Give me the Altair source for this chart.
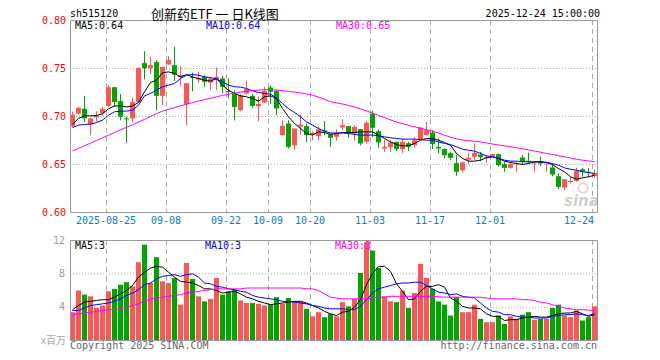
import altair as alt
import pandas as pd

# ---------------- data ----------------
OPEN = [
    0.690, 0.703, 0.708, 0.692, 0.699, 0.7035, 0.711, 0.7305, 0.716, 0.6975,
    0.698, 0.715, 0.7556, 0.7503, 0.7566, 0.7215, 0.7542, 0.7535, 0.741, 0.7128,
    0.7405, 0.7385, 0.7413, 0.7354, 0.7378, 0.7396, 0.7258, 0.7236, 0.7066, 0.724,
    0.7215, 0.7108, 0.7146, 0.7302, 0.7267, 0.6806, 0.6927, 0.670, 0.6895, 0.690,
    0.6815, 0.6795, 0.6848, 0.6813, 0.6788, 0.6885, 0.690, 0.6823, 0.6868, 0.6736,
    0.7028, 0.6847, 0.6667, 0.668, 0.6736, 0.666, 0.6722, 0.6701, 0.6764, 0.6806,
    0.6833, 0.6684, 0.666, 0.6618, 0.6514, 0.6441, 0.655, 0.658, 0.6604, 0.6569,
    0.658, 0.6608, 0.6503, 0.6465, 0.6504, 0.6573, 0.6531, 0.651, 0.6535, 0.6514,
    0.6469, 0.6378, 0.626, 0.6318, 0.633, 0.6451, 0.6417, 0.6378,
]
HIGH = [
    0.705, 0.710, 0.7215, 0.699, 0.7055, 0.710, 0.733, 0.731, 0.7233, 0.700,
    0.7198, 0.751, 0.768, 0.7621, 0.7587, 0.752, 0.763, 0.7726, 0.7525, 0.735,
    0.7457, 0.747, 0.743, 0.741, 0.751, 0.7424, 0.7396, 0.7274, 0.7236, 0.7368,
    0.7236, 0.7208, 0.731, 0.7326, 0.7274, 0.6962, 0.6962, 0.6875, 0.702, 0.6927,
    0.6847, 0.6896, 0.6952, 0.6823, 0.6865, 0.6972, 0.690, 0.691, 0.6868, 0.6955,
    0.7059, 0.6865, 0.676, 0.6753, 0.6736, 0.677, 0.6736, 0.6788, 0.689, 0.6944,
    0.6858, 0.6771, 0.667, 0.6632, 0.6604, 0.6534, 0.6622, 0.6719, 0.6632, 0.6597,
    0.661, 0.6615, 0.6528, 0.6528, 0.653, 0.6597, 0.6622, 0.6528, 0.658, 0.6528,
    0.6503, 0.641, 0.6347, 0.6372, 0.6465, 0.6465, 0.6465, 0.6448,
]
LOW = [
    0.689, 0.702, 0.694, 0.681, 0.6945, 0.701, 0.710, 0.710, 0.696, 0.6726,
    0.6937, 0.714, 0.7386, 0.744, 0.7066, 0.712, 0.754, 0.737, 0.732, 0.691,
    0.7263, 0.735, 0.731, 0.7274, 0.7274, 0.724, 0.7187, 0.696, 0.7056, 0.7233,
    0.709, 0.6951, 0.714, 0.7128, 0.7014, 0.680, 0.6667, 0.665, 0.681, 0.6736,
    0.6753, 0.675, 0.6806, 0.6684, 0.6747, 0.6854, 0.6778, 0.6747, 0.670, 0.672,
    0.6788, 0.6674, 0.6632, 0.6632, 0.6639, 0.6618, 0.6639, 0.6674, 0.676, 0.680,
    0.666, 0.6615, 0.6563, 0.6545, 0.6382, 0.6417, 0.6503, 0.6545, 0.6535, 0.652,
    0.6576, 0.6476, 0.6424, 0.6458, 0.6424, 0.650, 0.651, 0.6424, 0.6483, 0.6424,
    0.6376, 0.6243, 0.6233, 0.630, 0.632, 0.6372, 0.6372, 0.6361,
]
CLOSE = [
    0.702, 0.709, 0.698, 0.698, 0.701, 0.708, 0.7305, 0.715, 0.6997, 0.697,
    0.715, 0.7507, 0.7503, 0.7535, 0.7215, 0.7517, 0.7587, 0.7434, 0.743, 0.7347,
    0.740, 0.7402, 0.7361, 0.7396, 0.7413, 0.7309, 0.7255, 0.710, 0.7222, 0.7285,
    0.711, 0.7132, 0.7267, 0.7257, 0.7083, 0.6903, 0.6684, 0.6875, 0.6915, 0.6806,
    0.683, 0.6868, 0.6845, 0.6778, 0.6823, 0.691, 0.683, 0.6892, 0.6719, 0.6934,
    0.6882, 0.673, 0.6684, 0.6729, 0.666, 0.6736, 0.6684, 0.6753, 0.6885, 0.6858,
    0.6712, 0.6667, 0.6597, 0.657, 0.6424, 0.6521, 0.657, 0.6622, 0.6576, 0.658,
    0.6608, 0.6493, 0.6465, 0.6503, 0.651, 0.6528, 0.6528, 0.6514, 0.651, 0.652,
    0.6396, 0.6267, 0.6347, 0.6323, 0.6434, 0.6424, 0.6413, 0.6413,
]
MA5 = [
    0.692, 0.698, 0.7007, 0.7007, 0.701, 0.703, 0.708, 0.711, 0.711, 0.710,
    0.711, 0.7146, 0.7257, 0.7354, 0.7378, 0.7455, 0.7465, 0.745, 0.7413, 0.7437,
    0.7413, 0.7396, 0.7378, 0.7368, 0.7396, 0.7326, 0.7274, 0.724, 0.7215, 0.7205,
    0.7188, 0.716, 0.7205, 0.7215, 0.7188, 0.7083, 0.6997, 0.6927, 0.6875, 0.6823,
    0.6806, 0.684, 0.6833, 0.6813, 0.6823, 0.6833, 0.6833, 0.6833, 0.684, 0.684,
    0.684, 0.6806, 0.6771, 0.6736, 0.6708, 0.6694, 0.6694, 0.6719, 0.6753, 0.6771,
    0.6771, 0.6753, 0.6729, 0.670, 0.6615, 0.6563, 0.6535, 0.6535, 0.6545, 0.657,
    0.658, 0.6563, 0.6535, 0.6521, 0.651, 0.650, 0.651, 0.6528, 0.6528, 0.6521,
    0.650, 0.6458, 0.6424, 0.6372, 0.6347, 0.6361, 0.6372, 0.6389,
]
MA10 = [
    0.6885, 0.691, 0.6917, 0.692, 0.6937, 0.6962, 0.7014, 0.7049, 0.7056, 0.7056,
    0.7066, 0.7118, 0.7215, 0.724, 0.7274, 0.731, 0.7326, 0.7344, 0.7396, 0.743,
    0.7437, 0.743, 0.7413, 0.7406, 0.7389, 0.7361, 0.7326, 0.731, 0.7306, 0.7292,
    0.7267, 0.725, 0.724, 0.7233, 0.7194, 0.7135, 0.7083, 0.7042, 0.6997, 0.6944,
    0.691, 0.6875, 0.6847, 0.6828, 0.6828, 0.6828, 0.6823, 0.6813, 0.6806, 0.6806,
    0.6806, 0.680, 0.6788, 0.6778, 0.6771, 0.6764, 0.6764, 0.6764, 0.676, 0.6753,
    0.6753, 0.6736, 0.6719, 0.6708, 0.6684, 0.666, 0.6649, 0.6639, 0.6615, 0.659,
    0.658, 0.6563, 0.6545, 0.6535, 0.6535, 0.6528, 0.6528, 0.6528, 0.6528, 0.6521,
    0.651, 0.6493, 0.6465, 0.6451, 0.6441, 0.6424, 0.6417, 0.6406,
]
MA30 = [
    0.6640, 0.6667, 0.6695, 0.6722, 0.6750, 0.6778, 0.6805, 0.6833, 0.6860, 0.6888,
    0.6915, 0.6942, 0.6970, 0.7000, 0.7030, 0.7055, 0.7075, 0.7092, 0.7110, 0.7128,
    0.7145, 0.7160, 0.7175, 0.7190, 0.7205, 0.7220, 0.7232, 0.7244, 0.7255, 0.7264,
    0.7270, 0.7275, 0.7279, 0.7280, 0.7276, 0.7270, 0.7262, 0.7255, 0.7246, 0.7235,
    0.7222, 0.7202, 0.7180, 0.7155, 0.7142, 0.7130, 0.7116, 0.7100, 0.7080, 0.7058,
    0.7035, 0.7012, 0.6988, 0.6965, 0.6942, 0.6925, 0.6908, 0.6893, 0.6878, 0.6862,
    0.6847, 0.6828, 0.6805, 0.6785, 0.6768, 0.6755, 0.6748, 0.6742, 0.6735, 0.6725,
    0.6713, 0.6703, 0.6695, 0.6686, 0.6675, 0.6663, 0.6652, 0.6640, 0.6628, 0.6615,
    0.6605, 0.6592, 0.6580, 0.6568, 0.6555, 0.6545, 0.6537, 0.6530,
]
VOLUME = [
    3.4, 6.0, 5.5, 5.3, 3.9, 4.2, 5.9, 6.2, 6.7, 7.0,
    6.5, 9.4, 11.5, 6.9, 10.0, 7.1, 6.9, 7.5, 4.3, 9.3,
    7.4, 5.3, 4.7, 5.0, 7.5, 5.5, 5.9, 6.1, 4.8, 4.5,
    4.5, 4.4, 4.2, 4.4, 5.2, 4.4, 5.1, 4.7, 4.7, 3.8,
    2.9, 3.4, 2.8, 3.2, 2.9, 4.6, 4.1, 5.0, 8.1, 11.8,
    10.8, 8.7, 5.3, 4.7, 4.6, 6.0, 3.9, 5.7, 9.2, 7.5,
    6.2, 4.7, 4.3, 3.0, 5.2, 3.4, 3.4, 4.3, 2.6, 2.2,
    2.2, 3.0, 2.0, 2.9, 2.6, 3.1, 3.4, 2.5, 2.6, 2.6,
    3.9, 4.3, 3.0, 2.8, 3.6, 2.4, 2.8, 4.1,
]
VMA5 = [
    3.7, 4.2, 4.6, 4.7, 4.8, 4.9, 4.9, 5.2, 5.6, 6.0,
    6.6, 7.6, 8.2, 8.7, 8.9, 8.8, 8.2, 7.6, 7.1, 7.0,
    6.9, 6.6, 6.2, 6.2, 6.0, 5.7, 5.8, 5.9, 5.6, 5.2,
    5.0, 4.7, 4.5, 4.3, 4.4, 4.5, 4.6, 4.7, 4.7, 4.5,
    4.2, 3.9, 3.5, 3.2, 3.0, 3.4, 3.5, 4.0, 4.9, 6.7,
    8.0, 8.9, 8.9, 8.3, 6.8, 5.9, 4.9, 5.0, 5.9, 6.5,
    6.5, 6.7, 6.4, 5.1, 4.7, 4.1, 3.9, 3.9, 3.8, 3.2,
    2.9, 2.9, 2.4, 2.5, 2.5, 2.7, 2.8, 2.9, 2.8, 2.8,
    3.0, 3.2, 3.3, 3.3, 3.5, 3.2, 2.9, 3.1,
]
VMA10 = [
    3.6, 3.6, 3.9, 4.2, 4.3, 4.4, 4.5, 4.7, 5.0, 5.4,
    5.7, 6.1, 6.7, 6.9, 7.4, 7.7, 7.8, 7.9, 7.7, 7.9,
    8.0, 7.6, 6.9, 6.8, 6.5, 6.4, 6.2, 6.1, 5.9, 5.8,
    5.4, 5.2, 5.1, 5.0, 4.9, 4.7, 4.7, 4.6, 4.5, 4.4,
    4.2, 4.1, 3.9, 3.8, 3.8, 3.8, 3.7, 3.7, 4.1, 4.9,
    5.7, 6.2, 6.4, 6.6, 6.8, 6.9, 6.9, 7.0, 7.0, 6.6,
    6.2, 5.8, 5.7, 5.5, 5.6, 5.3, 5.2, 5.1, 4.5, 3.9,
    3.5, 3.4, 3.1, 3.1, 2.9, 2.8, 2.8, 2.7, 2.7, 2.7,
    2.9, 3.0, 3.1, 3.1, 3.2, 3.1, 3.0, 3.2,
]
VMA30 = [
    3.1, 3.2, 3.3, 3.4, 3.5, 3.6, 3.7, 3.7, 3.8, 4.0,
    4.2, 4.4, 4.7, 5.0, 5.1, 5.2, 5.3, 5.4, 5.5, 5.7,
    5.8, 5.9, 6.0, 6.1, 6.2, 6.2, 6.2, 6.2, 6.2, 6.3,
    6.3, 6.3, 6.3, 6.3, 6.3, 6.3, 6.3, 6.3, 6.3, 6.2,
    6.2, 6.0, 5.6, 5.2, 5.1, 5.0, 5.0, 5.0, 5.0, 5.0,
    5.1, 5.2, 5.2, 5.3, 5.3, 5.3, 5.3, 5.3, 5.3, 5.3,
    5.3, 5.25, 5.2, 5.2, 5.2, 5.2, 5.2, 5.2, 5.2, 5.1,
    5.0, 5.0, 5.0, 5.0, 5.0, 4.9, 4.9, 4.8, 4.6, 4.5,
    4.3, 4.1, 3.9, 3.8, 3.7, 3.7, 3.65, 3.6,
]
DATE_IDX = [6, 16, 26, 33, 40, 50, 60, 70, 87]
DATE_LABELS = ["2025-08-25", "09-08", "09-22", "10-09", "10-20",
               "11-03", "11-17", "12-01", "12-24"]
PRICE_TICKS = [0.80, 0.75, 0.70, 0.65, 0.60]
PRICE_TICK_LABELS = ["0.80", "0.75", "0.70", "0.65", "0.60"]
PRICE_GRID = [0.75, 0.70, 0.65]
VOL_TICKS = [12, 8, 4]
VOL_TICK_LABELS = ["12", "8", "4"]
VOL_GRID = [8, 4]

CODE = "sh515120"
TITLE = "创新药ETF 一 日K线图"
STAMP = "2025-12-24 15:00:00"
MA_TEXT = ["MA5:0.64", "MA10:0.64", "MA30:0.65"]
VMA_TEXT = ["MA5:3", "MA10:3", "MA30:3"]
UNIT = "x百万"
LEFT_NOTE = "Copyright 2025 SINA.COM"
RIGHT_NOTE = "http://finance.sina.com.cn"

N = len(CLOSE)
for arr in (OPEN, HIGH, LOW, VOLUME, MA5, MA10, MA30, VMA5, VMA10, VMA30):
    assert len(arr) == N, len(arr)

# ---------------- styling ----------------
RED = "#ff5555"
GREEN = "#00a600"
MONO = "DejaVu Sans Mono"
CJK = "Noto Sans CJK SC"
W, PH = 528, 192          # plot width, price panel height
VT, VB = 220, 320         # volume panel top / bottom (pixels inside the view)
H = VB

df = pd.DataFrame({
    "i": list(range(N)), "open": OPEN, "high": HIGH, "low": LOW, "close": CLOSE,
    "vol": VOLUME, "ma5": MA5, "ma10": MA10, "ma30": MA30,
    "vma5": VMA5, "vma10": VMA10, "vma30": VMA30,
})
df["col"] = [RED if c >= o else GREEN for o, c in zip(OPEN, CLOSE)]

xs = alt.Scale(domain=[0, N], range=[0, W], nice=False, zero=False)
py = alt.Scale(domain=[0.60, 0.80], range=[PH + 0.5, 0.5], nice=False, zero=False)
vy = alt.Scale(domain=[0, 12], range=[VB + 0.5, VT + 0.5], nice=False, zero=False)
colr = alt.Color("col:N", scale=None)

base = alt.Chart(df).transform_calculate(
    xc="datum.i + 5/12",
    xr="datum.i + 5/6",
    top="max(datum.open, datum.close)",
    bot="min(datum.open, datum.close)",
    zero="0",
).transform_calculate(top2="max(datum.top, datum.bot + 0.0011)")

one = pd.DataFrame({"a": [0]})
dates = pd.DataFrame({"idx": DATE_IDX, "label": DATE_LABELS})

layers = []

# vertical dashed grid (both panels)
for y0, y1 in ((0, PH), (VT, VB)):
    layers.append(
        alt.Chart(dates).transform_calculate(gx="datum.idx + 1/12")
        .mark_rule(color="#aaaaaa", strokeWidth=1, strokeDash=[5, 4])
        .encode(x=alt.X("gx:Q", scale=xs, axis=None),
                y=alt.value(y0), y2=alt.value(y1))
    )
# horizontal dotted grid
layers.append(
    alt.Chart(pd.DataFrame({"v": PRICE_GRID}))
    .mark_rule(color="#aaaaaa", strokeWidth=1, strokeDash=[1, 2])
    .encode(y=alt.Y("v:Q", scale=py, axis=None), x=alt.value(0), x2=alt.value(W))
)
layers.append(
    alt.Chart(pd.DataFrame({"v": VOL_GRID}))
    .mark_rule(color="#aaaaaa", strokeWidth=1, strokeDash=[1, 2])
    .encode(y=alt.Y("v:Q", scale=vy, axis=None), x=alt.value(0), x2=alt.value(W))
)

# watermark
layers.append(
    alt.Chart(one).mark_text(text="sina", font="DejaVu Sans", fontSize=15,
                             fontWeight="bold", fontStyle="italic",
                             color="#cfcfcf", align="left", baseline="middle")
    .encode(x=alt.value(494), y=alt.value(181))
)
layers.append(
    alt.Chart(one).mark_point(shape="circle", size=90, color="#f0b0b0",
                              strokeWidth=2, opacity=0.6)
    .encode(x=alt.value(513), y=alt.value(168))
)

# candles
layers.append(
    base.mark_rule(strokeWidth=1).encode(
        x=alt.X("xc:Q", scale=xs, axis=None),
        y=alt.Y("low:Q", scale=py, axis=None), y2="high:Q", color=colr)
)
layers.append(
    base.mark_rect().encode(
        x=alt.X("i:Q", scale=xs, axis=None), x2="xr:Q",
        y=alt.Y("top2:Q", scale=py, axis=None), y2="bot:Q", color=colr)
)
# price moving averages
for fld, c in (("ma5", "#000000"), ("ma10", "#0000ff"), ("ma30", "#ff00ff")):
    layers.append(
        base.mark_line(color=c, strokeWidth=1).encode(
            x=alt.X("xc:Q", scale=xs, axis=None),
            y=alt.Y(f"{fld}:Q", scale=py, axis=None))
    )

# volume bars
layers.append(
    base.mark_rect().encode(
        x=alt.X("i:Q", scale=xs, axis=None), x2="xr:Q",
        y=alt.Y("vol:Q", scale=vy, axis=None), y2="zero:Q", color=colr)
)
for fld, c in (("vma5", "#000000"), ("vma10", "#0000ff"), ("vma30", "#ff00ff")):
    layers.append(
        base.mark_line(color=c, strokeWidth=1).encode(
            x=alt.X("xc:Q", scale=xs, axis=None),
            y=alt.Y(f"{fld}:Q", scale=vy, axis=None))
    )

# frames
for y0, y1 in ((0.5, PH + 0.5), (VT + 0.5, VB + 0.5)):
    layers.append(
        alt.Chart(one).mark_rect(fillOpacity=0, stroke="#999999", strokeWidth=1)
        .encode(x=alt.value(0.5), x2=alt.value(W - 0.5),
                y=alt.value(y0), y2=alt.value(y1))
    )

# axis labels
layers.append(
    alt.Chart(pd.DataFrame({"v": PRICE_TICKS, "t": PRICE_TICK_LABELS}))
    .mark_text(align="right", baseline="middle", font=MONO, fontSize=10, color="#ff0000")
    .encode(x=alt.value(-4), y=alt.Y("v:Q", scale=py, axis=None), text="t:N")
)
layers.append(
    alt.Chart(pd.DataFrame({"v": VOL_TICKS, "t": VOL_TICK_LABELS}))
    .mark_text(align="right", baseline="middle", font=MONO, fontSize=10, color="#999999")
    .encode(x=alt.value(-5), y=alt.Y("v:Q", scale=vy, axis=None), text="t:N")
)
layers.append(
    alt.Chart(dates).transform_filter(f"datum.idx < {DATE_IDX[-1]}")
    .mark_text(align="center", baseline="middle", font=MONO, fontSize=10, color="#0a7cc8")
    .encode(x=alt.X("idx:Q", scale=xs, axis=None), y=alt.value(PH + 9), text="label:N")
)
layers.append(
    alt.Chart(dates).transform_filter(f"datum.idx == {DATE_IDX[-1]}")
    .mark_text(align="right", baseline="middle", font=MONO, fontSize=10, color="#0a7cc8", dx=2)
    .encode(x=alt.X("idx:Q", scale=xs, axis=None), y=alt.value(PH + 9), text="label:N")
)

# header texts
def txt(t, x, y, color="#000000", align="left", font=MONO, size=10):
    return alt.Chart(one).mark_text(text=t, font=font, fontSize=size, color=color,
                                    align=align, baseline="middle").encode(
        x=alt.value(x), y=alt.value(y))

layers += [
    txt(CODE, 0, -6),
    txt(TITLE, 81, -5.5, font=CJK, size=13),
    txt(STAMP, 530, -6, align="right"),
    txt(MA_TEXT[0], 5, 6),
    txt(MA_TEXT[1], 136, 6, color="#0000ff"),
    txt(MA_TEXT[2], 266, 6, color="#ff00ff"),
    txt(VMA_TEXT[0], 5, VT + 6),
    txt(VMA_TEXT[1], 135, VT + 6, color="#0000ff"),
    txt(VMA_TEXT[2], 265, VT + 6, color="#ff00ff"),
    txt(UNIT, -4, VB + 1, color="#aaaaaa", align="right", font=CJK, size=10),
    txt(LEFT_NOTE, 0, VB + 6, color="#666666"),
    txt(RIGHT_NOTE, W - 1, VB + 6, color="#666666", align="right"),
]

chart = alt.layer(*layers).resolve_scale(y="independent").properties(
    width=W, height=H,
    autosize=alt.AutoSizeParams(type="none"),
    padding={"left": 62, "top": 12, "right": 10, "bottom": 12},
    background="#ffffff",
).configure_view(stroke=None)

chart.save("out.html", embed_options={"renderer": "svg", "actions": False})
